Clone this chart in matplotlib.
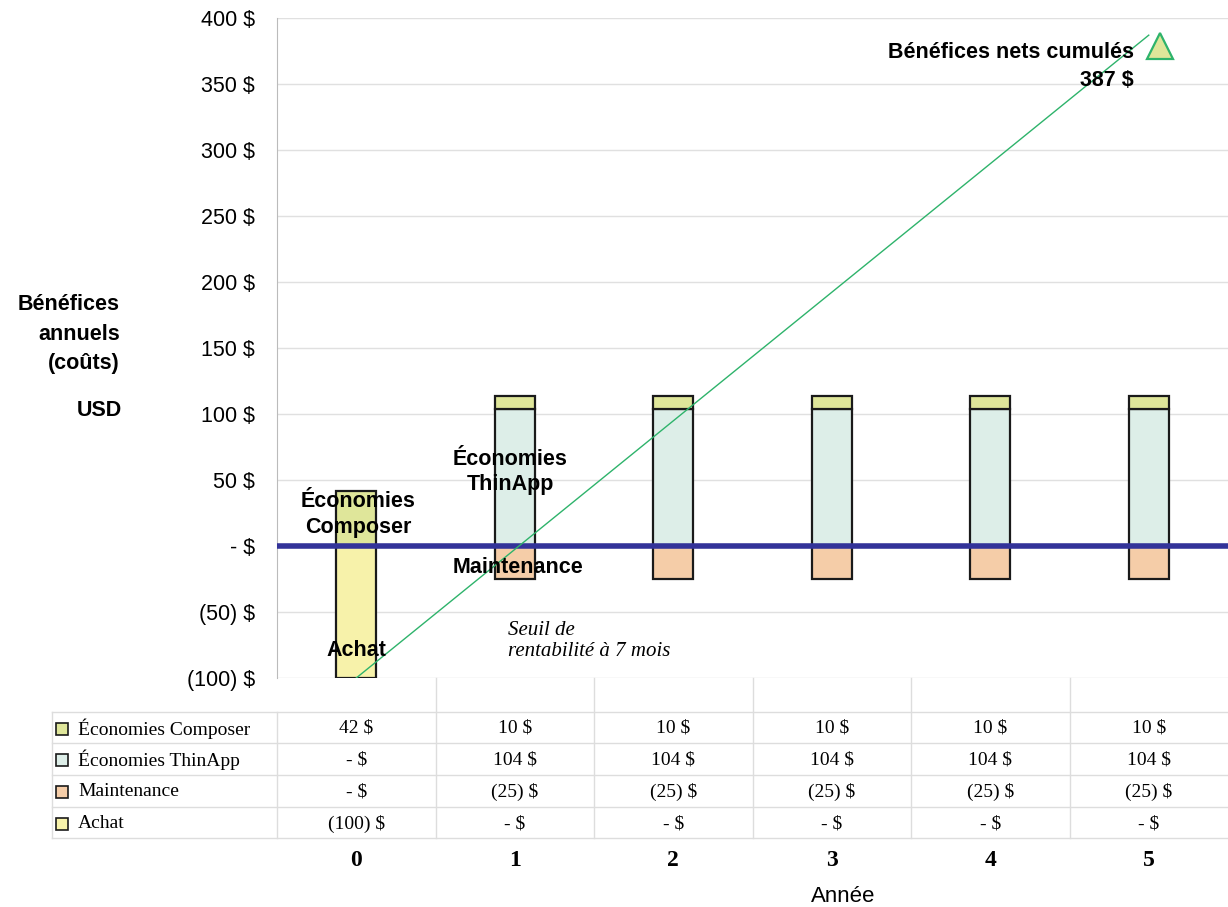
import matplotlib
matplotlib.use("Agg")
import matplotlib.pyplot as plt
from matplotlib.patches import Rectangle
from matplotlib.lines import Line2D
from matplotlib import transforms

years = ["0", "1", "2", "3", "4", "5"]
achat = [-100, 0, 0, 0, 0, 0]
maintenance = [0, -25, -25, -25, -25, -25]
eco_thinapp = [0, 104, 104, 104, 104, 104]
eco_composer = [42, 10, 10, 10, 10, 10]
cumul_x = [0, 5]
cumul_y = [-100, 387]
yticks = [-100, -50, 0, 50, 100, 150, 200, 250, 300, 350, 400]

series_names = ["Économies Composer", "Économies ThinApp", "Maintenance", "Achat"]
c_composer = "#DFE69A"
c_thinapp = "#DDEEE8"
c_maint = "#F5CDA8"
c_achat = "#F7F2AA"
series_colors = [c_composer, c_thinapp, c_maint, c_achat]
series_values = [eco_composer, eco_thinapp, maintenance, achat]


def fmt(v):
    if v == 0:
        return "- $"
    if v < 0:
        return f"({-v}) $"
    return f"{v} $"


W, H = 1228, 907
fig = plt.figure(figsize=(W / 100, H / 100), dpi=100)
sans = "Liberation Sans"
serif = "Liberation Serif"

ax = fig.add_axes([277 / W, (H - 678) / H, 951 / W, 660 / H])
x = list(range(len(years)))
bw = 0.25
ek = dict(edgecolor="#1a1a1a", linewidth=1.6, zorder=3)
ax.bar(x, achat, bw, color=c_achat, **ek)
ax.bar(x, maintenance, bw, color=c_maint, **ek)
ax.bar(x, eco_thinapp, bw, color=c_thinapp, **ek)
ax.bar(x, eco_composer, bw, bottom=eco_thinapp, color=c_composer, **ek)

ax.axhline(0, color="#333399", linewidth=4, zorder=4)
ax.plot(cumul_x, cumul_y, color="#2EB36B", linewidth=1.0, zorder=5)
mk_tr = transforms.offset_copy(ax.transData, fig=fig, x=11, y=-11, units="dots")
ax.plot([cumul_x[-1]], [cumul_y[-1]], marker="^", markersize=19,
        markerfacecolor=c_composer, markeredgecolor="#2EB36B",
        markeredgewidth=1.6, zorder=6, clip_on=False, transform=mk_tr)

ax.set_xlim(-0.5, 5.5)
ax.set_ylim(-100, 400)
ax.set_yticks(yticks)
ax.set_yticklabels([fmt(v) for v in yticks], fontsize=15.5, family=sans)
ax.set_xticks([])
ax.grid(axis="y", color="#E0E0E0", linewidth=1, zorder=0)
for s in ["top", "right", "bottom"]:
    ax.spines[s].set_visible(False)
ax.spines["left"].set_color("#BBBBBB")
ax.tick_params(axis="y", length=0, pad=16)

bold = dict(fontsize=15.5, fontweight="bold", family=sans, zorder=7)
ax.text(0.01, 24, "Économies\nComposer", ha="center", va="center", linespacing=1.3, **bold)
ax.text(0, -79, "Achat", ha="center", va="center", **bold)
ax.text(0.97, 56, "Économies\nThinApp", ha="center", va="center", linespacing=1.3, **bold)
ax.text(1.02, -16, "Maintenance", ha="center", va="center", **bold)
ax.text(4.905, 374, "Bénéfices nets cumulés", ha="right", va="center", **bold)
ax.text(4.905, 353, "387 $", ha="right", va="center", **bold)
ax.text(0.955, -72, "Seuil de\nrentabilité à 7 mois", ha="left", va="center",
        fontsize=15, style="italic", family=serif, linespacing=1.15)

fig.text(120 / W, 1 - 334 / H, "Bénéfices\nannuels\n(coûts)", ha="right", va="center",
         multialignment="right", linespacing=1.5, fontsize=15.5, fontweight="bold", family=sans)
fig.text(122 / W, 1 - 411 / H, "USD", ha="right", va="center",
         fontsize=15.5, fontweight="bold", family=sans)

# table axes
tax = fig.add_axes([277 / W, (H - 838) / H, 951 / W, 160 / H])
tax.set_xlim(-0.5, 5.5)
tax.set_ylim(160, 0)
tax.axis("off")
gc = "#DDDDDD"
left_x = -0.5 - 225 / 158.5
row_lines = [34, 65, 97, 129, 160]
for ry in row_lines:
    tax.add_line(Line2D([left_x, 5.5], [ry, ry], color=gc, linewidth=1, clip_on=False))
for b in [i - 0.5 for i in range(len(years))]:
    tax.add_line(Line2D([b, b], [0 if b > -0.5 else 34, 160], color=gc, linewidth=1, clip_on=False))
tax.add_line(Line2D([left_x, left_x], [34, 160], color=gc, linewidth=1, clip_on=False))

for r, (name, col, vals) in enumerate(zip(series_names, series_colors, series_values)):
    cy = (row_lines[r] + row_lines[r + 1]) / 2 + 1
    tax.add_patch(Rectangle((left_x + 4 / 158.5, cy - 6), 12 / 158.5, 12,
                            facecolor=col, edgecolor="#1a1a1a", linewidth=1.2, clip_on=False))
    tax.text(left_x + 26 / 158.5, cy, name, ha="left", va="center",
             fontsize=14, family=serif, clip_on=False)
    for i, v in enumerate(vals):
        tax.text(i, cy, fmt(v), ha="center", va="center", fontsize=14, family=serif)

for i, yl in enumerate(years):
    fig.text((277 + (i + 0.5) * 158.5) / W, 1 - 860 / H, yl, ha="center", va="center",
             fontsize=17, fontweight="bold", family=serif)
fig.text(843 / W, 1 - 897 / H, "Année", ha="center", va="center", fontsize=16, family=sans)

fig.savefig("out.png", dpi=100)
